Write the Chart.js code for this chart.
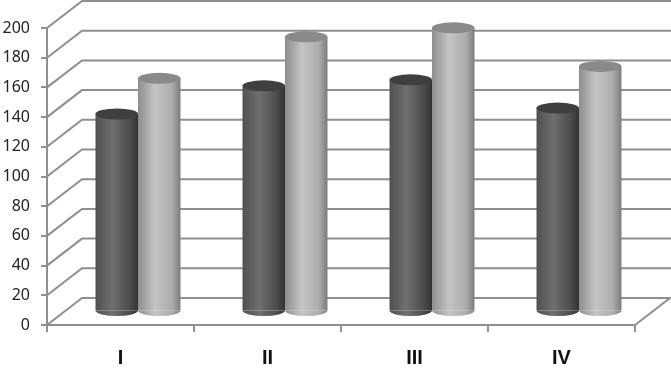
<!DOCTYPE html>
<html>
<head>
<meta charset="utf-8">
<script src="https://cdn.jsdelivr.net/npm/chart.js@4"></script>
<style>
  html, body { margin: 0; padding: 0; background: #fff; }
  canvas { display: block; }
</style>
</head>
<body>
<canvas id="chart" width="671" height="371"></canvas>
<script>
const categories = ['I', 'II', 'III', 'IV'];
const darkValues = [133, 152, 156, 137];
const lightValues = [157, 185, 191, 165];
const yTicks = [0, 20, 40, 60, 80, 100, 120, 140, 160, 180, 200];

const axisGrey = '#8f8f8f';
const darkStops = ['#505050', '#6f6f6f', '#4c4c4c', '#333333'];
const lightStops = ['#8e8e8e', '#c4c4c4', '#acacac', '#7c7c7c'];
const depth = { x: 35, y: -27 };
const barShift = { x: 17.5, y: -13.5 };
const capRadius = 5.5;

const cylinderFill = (stops, side) => (c) => {
  const xScale = c.chart.scales.x;
  if (!xScale || c.dataIndex === undefined) return stops[0];
  const w = xScale.width / categories.length * 0.578 / 2;
  const mid = xScale.getPixelForValue(c.dataIndex);
  if (!isFinite(mid) || !isFinite(w)) return stops[0];
  const left = side < 0 ? mid - w : mid;
  const g = c.chart.ctx.createLinearGradient(left, 0, left + w, 0);
  g.addColorStop(0, stops[0]);
  g.addColorStop(0.4, stops[1]);
  g.addColorStop(0.8, stops[2]);
  g.addColorStop(1, stops[3]);
  return g;
};

const cylinders = {
  id: 'cylinders',
  beforeDatasetsDraw(chart) {
    const { ctx, scales: { y }, chartArea: a } = chart;
    ctx.save();
    ctx.strokeStyle = axisGrey;
    ctx.lineWidth = 2;
    yTicks.forEach((v) => {
      const py = y.getPixelForValue(v);
      ctx.beginPath();
      ctx.moveTo(a.left, py);
      ctx.lineTo(a.left + depth.x, py + depth.y);
      ctx.lineTo(v === 0 ? a.right + depth.x : chart.width, py + depth.y);
      if (v === 0) ctx.lineTo(a.right, py);
      ctx.stroke();
    });
    ctx.restore();
    ctx.save();
    ctx.translate(barShift.x, barShift.y);
  },
  afterDatasetsDraw(chart) {
    const { ctx } = chart;
    [1, 0].forEach((i) => {
      const meta = chart.getDatasetMeta(i);
      const capColor = i === 0 ? '#3f3f3f' : '#8a8a8a';
      meta.data.forEach((bar) => {
        const rx = bar.width / 2;
        ctx.fillStyle = bar.options.backgroundColor;
        ctx.beginPath();
        ctx.ellipse(bar.x, bar.base, rx, capRadius, 0, 0, Math.PI);
        ctx.fill();
        ctx.fillStyle = capColor;
        ctx.beginPath();
        ctx.ellipse(bar.x, bar.y, rx, capRadius, 0, 0, Math.PI * 2);
        ctx.fill();
      });
    });
    ctx.restore();
  }
};

new Chart(document.getElementById('chart'), {
  type: 'bar',
  data: {
    labels: categories,
    datasets: [
      { data: darkValues, backgroundColor: cylinderFill(darkStops, -1), clip: false },
      { data: lightValues, backgroundColor: cylinderFill(lightStops, 1), clip: false }
    ]
  },
  options: {
    responsive: false,
    animation: false,
    categoryPercentage: 0.578,
    barPercentage: 1,
    layout: { padding: { top: 28, right: 36, left: 0, bottom: 0 } },
    plugins: { legend: { display: false }, tooltip: { enabled: false } },
    scales: {
      x: {
        afterFit(scale) { scale.height = 46; },
        grid: { drawOnChartArea: false, color: axisGrey, lineWidth: 2, tickLength: 7 },
        border: { color: axisGrey, width: 2 },
        ticks: {
          color: '#111',
          padding: 14,
          maxRotation: 0,
          font: { family: 'Liberation Sans', size: 20, weight: 'bold' }
        }
      },
      y: {
        min: 0,
        max: 200,
        afterFit(scale) { scale.width = 47; },
        grid: { drawOnChartArea: false, color: axisGrey, lineWidth: 2, tickLength: 6 },
        border: { color: axisGrey, width: 2 },
        ticks: {
          stepSize: 20,
          color: '#222',
          padding: 11,
          font: { family: 'Noto Sans', size: 16 }
        }
      }
    }
  },
  plugins: [cylinders]
});
</script>
</body>
</html>
